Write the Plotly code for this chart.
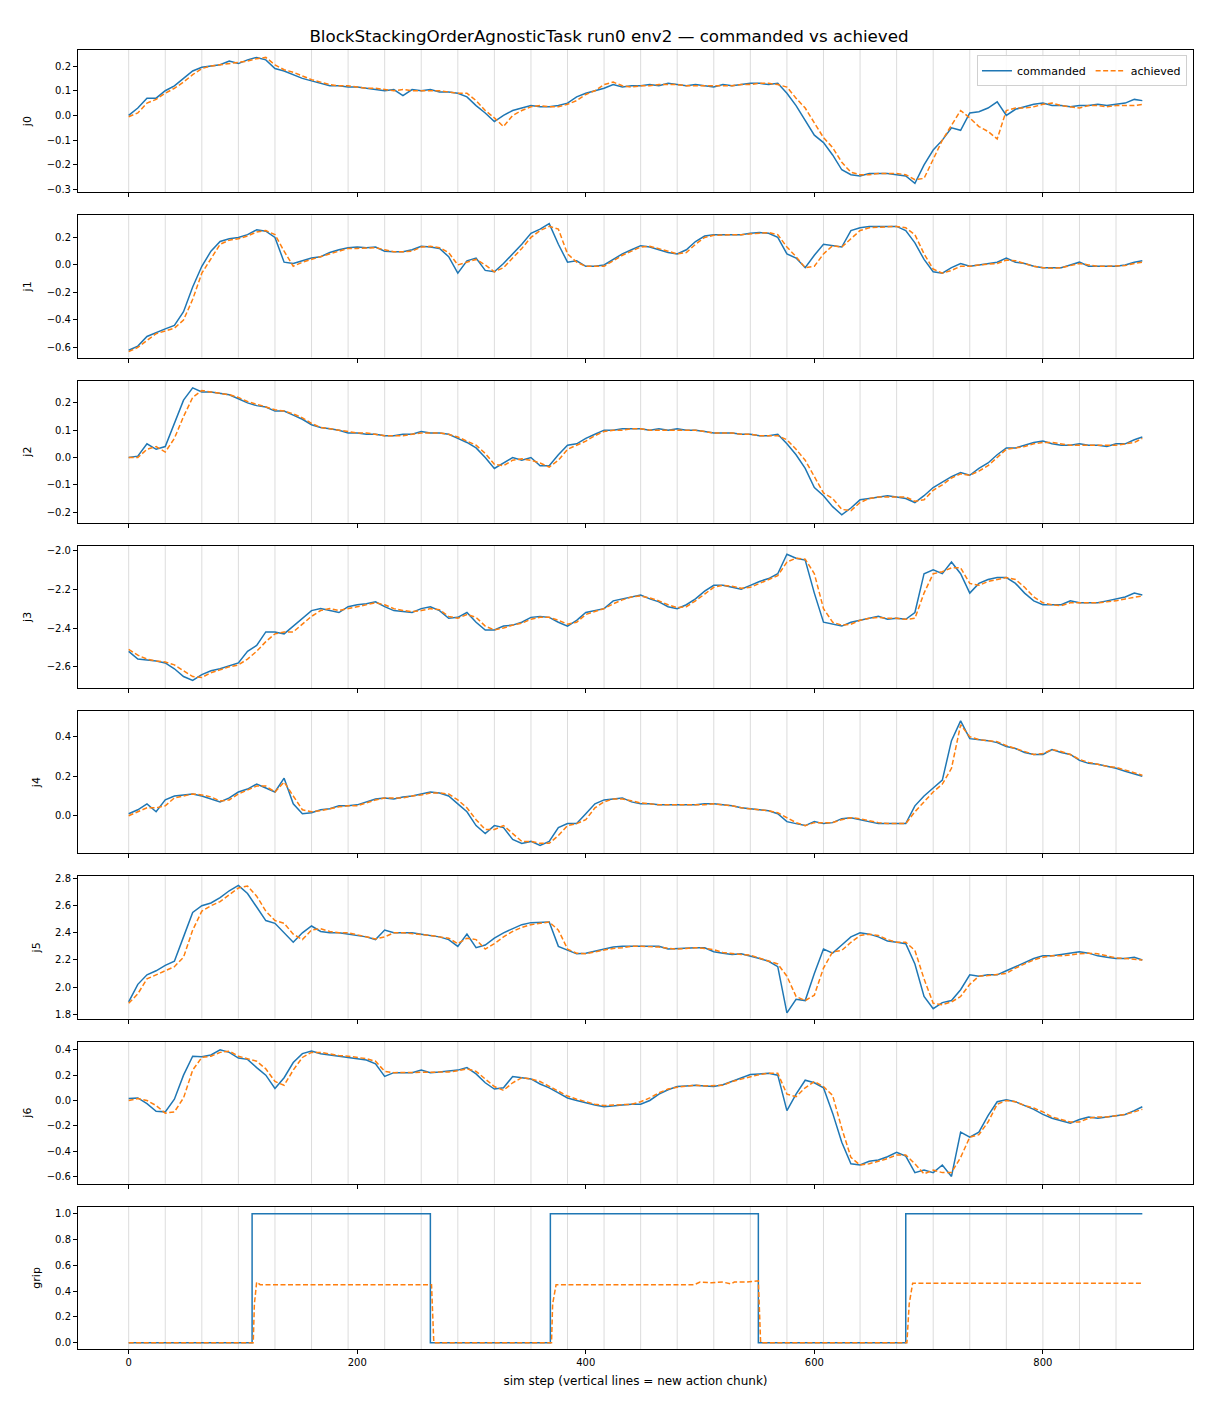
import plotly.graph_objects as go
from plotly.subplots import make_subplots

# sim steps sampled every 8 steps (last sample = final step)
steps = [0, 8, 16, 24, 32, 40, 48, 56,
         64, 72, 80, 88, 96, 104, 112, 120,
         128, 136, 144, 152, 160, 168, 176, 184,
         192, 200, 208, 216, 224, 232, 240, 248,
         256, 264, 272, 280, 288, 296, 304, 312,
         320, 328, 336, 344, 352, 360, 368, 376,
         384, 392, 400, 408, 416, 424, 432, 440,
         448, 456, 464, 472, 480, 488, 496, 504,
         512, 520, 528, 536, 544, 552, 560, 568,
         576, 584, 592, 600, 608, 616, 624, 632,
         640, 648, 656, 664, 672, 680, 688, 696,
         704, 712, 720, 728, 736, 744, 752, 760,
         768, 776, 784, 792, 800, 808, 816, 824,
         832, 840, 848, 856, 864, 872, 880, 887]

j0_cmd = [0.00, 0.03, 0.07, 0.07, 0.10, 0.12, 0.15, 0.18,
          0.195, 0.20, 0.205, 0.22, 0.21, 0.225, 0.235, 0.225,
          0.19, 0.18, 0.165, 0.15, 0.14, 0.13, 0.12, 0.12,
          0.115, 0.115, 0.11, 0.105, 0.10, 0.105, 0.08, 0.105,
          0.10, 0.105, 0.095, 0.095, 0.09, 0.075, 0.04, 0.01,
          -0.025, 0.0, 0.02, 0.03, 0.04, 0.035, 0.035, 0.04,
          0.05, 0.075, 0.09, 0.10, 0.11, 0.125, 0.115, 0.12,
          0.12, 0.125, 0.12, 0.13, 0.125, 0.12, 0.125, 0.12,
          0.115, 0.125, 0.12, 0.125, 0.13, 0.13, 0.125, 0.13,
          0.09, 0.04, -0.02, -0.08, -0.11, -0.16, -0.22, -0.24,
          -0.245, -0.235, -0.235, -0.235, -0.24, -0.245, -0.275, -0.20,
          -0.14, -0.10, -0.05, -0.06, 0.01, 0.015, 0.03, 0.055,
          0.00, 0.025, 0.035, 0.045, 0.05, 0.04, 0.04, 0.035,
          0.04, 0.04, 0.045, 0.04, 0.045, 0.05, 0.065, 0.06]
j0_ach = [-0.005, 0.01, 0.05, 0.065, 0.09, 0.11, 0.135, 0.165,
          0.19, 0.20, 0.205, 0.21, 0.215, 0.22, 0.23, 0.235,
          0.205, 0.185, 0.175, 0.16, 0.145, 0.135, 0.125, 0.12,
          0.12, 0.115, 0.11, 0.11, 0.105, 0.10, 0.105, 0.10,
          0.10, 0.10, 0.10, 0.095, 0.09, 0.09, 0.06, 0.02,
          -0.01, -0.045, 0.0, 0.02, 0.035, 0.04, 0.035, 0.035,
          0.045, 0.06, 0.085, 0.10, 0.125, 0.135, 0.12, 0.115,
          0.12, 0.12, 0.125, 0.125, 0.125, 0.12, 0.12, 0.12,
          0.12, 0.12, 0.12, 0.125, 0.125, 0.13, 0.13, 0.125,
          0.115, 0.07, 0.03, -0.03, -0.09, -0.13, -0.19, -0.23,
          -0.24, -0.24, -0.235, -0.235, -0.235, -0.24, -0.26, -0.255,
          -0.18, -0.10, -0.04, 0.02, -0.01, -0.045, -0.065, -0.095,
          0.02, 0.03, 0.03, 0.035, 0.045, 0.05, 0.04, 0.035,
          0.03, 0.04, 0.04, 0.035, 0.04, 0.04, 0.04, 0.045]

j1_cmd = [-0.62, -0.59, -0.52, -0.49, -0.465, -0.44, -0.34, -0.16,
          -0.01, 0.10, 0.17, 0.19, 0.20, 0.22, 0.255, 0.245,
          0.20, 0.02, 0.01, 0.03, 0.05, 0.06, 0.09, 0.11,
          0.125, 0.13, 0.125, 0.13, 0.10, 0.095, 0.095, 0.11,
          0.135, 0.13, 0.12, 0.06, -0.06, 0.03, 0.05, -0.04,
          -0.05, 0.01, 0.08, 0.15, 0.23, 0.26, 0.30, 0.15,
          0.02, 0.03, -0.01, -0.01, 0.0, 0.04, 0.08, 0.11,
          0.14, 0.13, 0.11, 0.09, 0.08, 0.11, 0.17, 0.21,
          0.22, 0.22, 0.22, 0.22, 0.23, 0.235, 0.23, 0.20,
          0.08, 0.05, -0.02, 0.07, 0.15, 0.14, 0.13, 0.25,
          0.27, 0.28, 0.28, 0.28, 0.28, 0.25, 0.16, 0.04,
          -0.05, -0.06, -0.02, 0.01, -0.01, 0.0, 0.01, 0.02,
          0.05, 0.02, 0.01, -0.01, -0.02, -0.02, -0.02, 0.0,
          0.02, -0.01, -0.01, -0.01, -0.01, 0.0, 0.02, 0.03]
j1_ach = [-0.63, -0.60, -0.55, -0.50, -0.48, -0.46, -0.40, -0.25,
          -0.06, 0.05, 0.15, 0.18, 0.19, 0.21, 0.24, 0.25,
          0.22, 0.10, -0.01, 0.02, 0.04, 0.06, 0.08, 0.10,
          0.12, 0.12, 0.125, 0.125, 0.11, 0.095, 0.095, 0.10,
          0.13, 0.135, 0.125, 0.09, 0.0, 0.02, 0.04, 0.0,
          -0.05, -0.02, 0.05, 0.12, 0.20, 0.25, 0.28, 0.26,
          0.08, 0.02, -0.01, -0.01, -0.01, 0.03, 0.07, 0.10,
          0.13, 0.135, 0.12, 0.10, 0.08, 0.09, 0.15, 0.20,
          0.215, 0.22, 0.22, 0.22, 0.225, 0.23, 0.235, 0.22,
          0.13, 0.06, -0.02, -0.01, 0.08, 0.14, 0.13, 0.19,
          0.25, 0.27, 0.275, 0.28, 0.28, 0.27, 0.22, 0.08,
          -0.03, -0.06, -0.04, -0.01, -0.01, 0.0, 0.005, 0.01,
          0.035, 0.03, 0.01, -0.01, -0.02, -0.025, -0.02, -0.005,
          0.01, 0.0, -0.01, -0.01, -0.01, -0.005, 0.01, 0.02]

j2_cmd = [0.0, 0.005, 0.05, 0.03, 0.04, 0.125, 0.21, 0.255,
          0.24, 0.24, 0.235, 0.23, 0.215, 0.20, 0.19, 0.185,
          0.17, 0.17, 0.155, 0.14, 0.12, 0.11, 0.105, 0.10,
          0.09, 0.09, 0.085, 0.085, 0.08, 0.08, 0.085, 0.085,
          0.095, 0.09, 0.09, 0.085, 0.07, 0.055, 0.035, 0.0,
          -0.04, -0.02, 0.0, -0.01, 0.0, -0.03, -0.03, 0.01,
          0.045, 0.05, 0.07, 0.085, 0.10, 0.10, 0.105, 0.105,
          0.105, 0.10, 0.105, 0.10, 0.105, 0.10, 0.10, 0.095,
          0.09, 0.09, 0.09, 0.085, 0.085, 0.08, 0.08, 0.085,
          0.05, 0.01, -0.04, -0.11, -0.14, -0.18, -0.21, -0.185,
          -0.155, -0.15, -0.145, -0.14, -0.145, -0.15, -0.165, -0.14,
          -0.11, -0.09, -0.07, -0.055, -0.065, -0.04, -0.02, 0.01,
          0.035, 0.035, 0.045, 0.055, 0.06, 0.05, 0.045, 0.045,
          0.05, 0.045, 0.045, 0.04, 0.05, 0.05, 0.065, 0.075]
j2_ach = [0.0, 0.0, 0.03, 0.04, 0.02, 0.07, 0.15, 0.22,
          0.245, 0.24, 0.235, 0.23, 0.22, 0.205, 0.195, 0.185,
          0.175, 0.17, 0.16, 0.145, 0.125, 0.11, 0.105, 0.10,
          0.095, 0.09, 0.09, 0.085, 0.08, 0.08, 0.08, 0.085,
          0.09, 0.09, 0.09, 0.085, 0.075, 0.06, 0.045, 0.015,
          -0.025, -0.03, -0.01, -0.005, -0.01, -0.02, -0.035, -0.01,
          0.03, 0.045, 0.06, 0.08, 0.095, 0.10, 0.10, 0.105,
          0.105, 0.10, 0.10, 0.10, 0.10, 0.10, 0.10, 0.095,
          0.09, 0.09, 0.09, 0.085, 0.085, 0.08, 0.08, 0.08,
          0.065, 0.03, -0.01, -0.07, -0.13, -0.15, -0.19, -0.195,
          -0.165, -0.15, -0.145, -0.145, -0.145, -0.145, -0.16, -0.155,
          -0.12, -0.10, -0.075, -0.06, -0.065, -0.05, -0.03, 0.0,
          0.03, 0.035, 0.04, 0.05, 0.055, 0.055, 0.05, 0.045,
          0.045, 0.045, 0.045, 0.045, 0.045, 0.05, 0.055, 0.07]

j3_cmd = [-2.52, -2.56, -2.565, -2.57, -2.58, -2.61, -2.65, -2.67,
          -2.64, -2.62, -2.61, -2.595, -2.58, -2.52, -2.49, -2.42,
          -2.42, -2.43, -2.39, -2.35, -2.31, -2.30, -2.31, -2.32,
          -2.29, -2.28, -2.275, -2.265, -2.29, -2.31, -2.315, -2.32,
          -2.30, -2.29, -2.31, -2.35, -2.345, -2.32, -2.37, -2.41,
          -2.41, -2.39, -2.385, -2.37, -2.345, -2.34, -2.345, -2.37,
          -2.39, -2.36, -2.32, -2.31, -2.30, -2.26, -2.25, -2.24,
          -2.23, -2.25, -2.265, -2.29, -2.30, -2.28, -2.25, -2.21,
          -2.18, -2.18, -2.19, -2.20, -2.18, -2.16, -2.145, -2.12,
          -2.02, -2.04, -2.05, -2.22, -2.37, -2.38, -2.39, -2.37,
          -2.36, -2.35, -2.34, -2.355, -2.35, -2.355, -2.32, -2.12,
          -2.10, -2.12, -2.06, -2.12, -2.22, -2.17, -2.15, -2.14,
          -2.14, -2.17, -2.22, -2.26, -2.28, -2.28, -2.28, -2.26,
          -2.27, -2.27, -2.27, -2.26, -2.25, -2.24, -2.22, -2.23]
j3_ach = [-2.51, -2.54, -2.56, -2.57, -2.575, -2.59, -2.62, -2.65,
          -2.655, -2.63, -2.615, -2.60, -2.59, -2.56, -2.52, -2.47,
          -2.43, -2.42, -2.42, -2.38, -2.34, -2.31, -2.30, -2.31,
          -2.30, -2.29, -2.28, -2.27, -2.28, -2.30, -2.31, -2.315,
          -2.31, -2.30, -2.305, -2.34, -2.35, -2.33, -2.345, -2.39,
          -2.41, -2.40, -2.385, -2.375, -2.355, -2.345, -2.345, -2.36,
          -2.38, -2.37, -2.33, -2.315, -2.30, -2.275, -2.255, -2.24,
          -2.235, -2.245, -2.26, -2.28, -2.295, -2.29, -2.26, -2.225,
          -2.19, -2.18, -2.185, -2.195, -2.19, -2.17, -2.15, -2.13,
          -2.06, -2.04, -2.045, -2.12, -2.30, -2.37, -2.385, -2.38,
          -2.36, -2.35, -2.345, -2.35, -2.35, -2.355, -2.35, -2.22,
          -2.12, -2.11, -2.09, -2.09, -2.17, -2.18, -2.16, -2.15,
          -2.14, -2.15, -2.19, -2.24, -2.27, -2.28, -2.285, -2.27,
          -2.27, -2.27, -2.27, -2.265, -2.26, -2.25, -2.24, -2.235]

j4_cmd = [0.01, 0.03, 0.06, 0.02, 0.08, 0.10, 0.105, 0.11,
          0.10, 0.085, 0.07, 0.09, 0.12, 0.135, 0.16, 0.14,
          0.12, 0.19, 0.06, 0.01, 0.015, 0.03, 0.035, 0.05,
          0.05, 0.055, 0.07, 0.085, 0.09, 0.085, 0.095, 0.10,
          0.11, 0.12, 0.115, 0.10, 0.06, 0.02, -0.05, -0.09,
          -0.05, -0.06, -0.12, -0.14, -0.13, -0.15, -0.13, -0.06,
          -0.04, -0.04, 0.01, 0.06, 0.08, 0.085, 0.09, 0.07,
          0.06, 0.06, 0.055, 0.055, 0.055, 0.055, 0.055, 0.06,
          0.06, 0.055, 0.05, 0.04, 0.035, 0.03, 0.025, 0.01,
          -0.03, -0.04, -0.05, -0.03, -0.04, -0.035, -0.015, -0.01,
          -0.02, -0.03, -0.04, -0.04, -0.04, -0.04, 0.05, 0.10,
          0.14, 0.18, 0.38, 0.48, 0.39, 0.385, 0.38, 0.37,
          0.35, 0.34, 0.32, 0.31, 0.31, 0.335, 0.32, 0.31,
          0.28, 0.265, 0.26, 0.25, 0.24, 0.225, 0.21, 0.20]
j4_ach = [0.0, 0.02, 0.04, 0.04, 0.05, 0.09, 0.10, 0.11,
          0.105, 0.095, 0.075, 0.08, 0.11, 0.13, 0.15, 0.15,
          0.12, 0.17, 0.10, 0.03, 0.02, 0.025, 0.035, 0.045,
          0.05, 0.05, 0.065, 0.08, 0.09, 0.09, 0.09, 0.10,
          0.105, 0.115, 0.115, 0.11, 0.08, 0.04, -0.02, -0.07,
          -0.07, -0.05, -0.09, -0.13, -0.13, -0.14, -0.14, -0.10,
          -0.05, -0.04, -0.02, 0.04, 0.07, 0.085, 0.085, 0.075,
          0.065, 0.06, 0.055, 0.055, 0.055, 0.055, 0.055, 0.055,
          0.06, 0.055, 0.05, 0.04, 0.035, 0.03, 0.025, 0.015,
          -0.01, -0.035, -0.05, -0.035, -0.035, -0.035, -0.02, -0.01,
          -0.015, -0.025, -0.035, -0.04, -0.04, -0.04, 0.02, 0.07,
          0.12, 0.16, 0.24, 0.46, 0.40, 0.385, 0.38, 0.375,
          0.355, 0.34, 0.325, 0.31, 0.315, 0.335, 0.325, 0.31,
          0.285, 0.27, 0.26, 0.25, 0.245, 0.23, 0.215, 0.205]

j5_cmd = [1.89, 2.02, 2.09, 2.12, 2.16, 2.19, 2.37, 2.55,
          2.60, 2.62, 2.66, 2.71, 2.75, 2.69, 2.59, 2.49,
          2.47, 2.40, 2.33, 2.40, 2.45, 2.41, 2.40, 2.40,
          2.39, 2.38, 2.37, 2.35, 2.42, 2.40, 2.40, 2.40,
          2.39, 2.38, 2.37, 2.35, 2.30, 2.39, 2.29, 2.31,
          2.36, 2.40, 2.43, 2.46, 2.475, 2.48, 2.48, 2.30,
          2.27, 2.245, 2.25, 2.265, 2.28, 2.295, 2.30, 2.30,
          2.30, 2.305, 2.30, 2.28, 2.285, 2.29, 2.29, 2.29,
          2.26, 2.25, 2.24, 2.245, 2.23, 2.21, 2.19, 2.15,
          1.81, 1.91, 1.90, 2.10, 2.28, 2.25, 2.31, 2.37,
          2.40, 2.39, 2.37, 2.34, 2.33, 2.32, 2.17, 1.93,
          1.84, 1.885, 1.90, 1.98, 2.09, 2.08, 2.09, 2.09,
          2.12, 2.15, 2.18, 2.21, 2.23, 2.23, 2.24, 2.25,
          2.26, 2.25, 2.23, 2.22, 2.21, 2.21, 2.22, 2.20]
j5_ach = [1.88, 1.95, 2.06, 2.09, 2.12, 2.15, 2.22, 2.42,
          2.56, 2.60, 2.63, 2.68, 2.73, 2.745, 2.67, 2.56,
          2.49, 2.47, 2.39, 2.35, 2.42, 2.43, 2.41, 2.40,
          2.40, 2.385, 2.37, 2.355, 2.37, 2.40, 2.40, 2.395,
          2.39, 2.38, 2.37, 2.36, 2.32, 2.36, 2.35, 2.28,
          2.32, 2.37, 2.41, 2.44, 2.46, 2.47, 2.48, 2.42,
          2.28, 2.25, 2.245, 2.26, 2.275, 2.285, 2.29, 2.30,
          2.30, 2.30, 2.295, 2.285, 2.28, 2.285, 2.29, 2.285,
          2.275, 2.255, 2.245, 2.24, 2.235, 2.215, 2.195, 2.17,
          2.08, 1.93, 1.90, 1.94, 2.14, 2.26, 2.27, 2.33,
          2.38, 2.39, 2.38, 2.35, 2.33, 2.33, 2.27, 2.06,
          1.88, 1.87, 1.89, 1.93, 2.02, 2.08, 2.085, 2.09,
          2.10, 2.14, 2.17, 2.20, 2.22, 2.23, 2.23, 2.24,
          2.245, 2.25, 2.245, 2.23, 2.215, 2.21, 2.205, 2.20]

j6_cmd = [0.015, 0.02, -0.025, -0.085, -0.09, 0.01, 0.20, 0.35,
          0.345, 0.36, 0.40, 0.38, 0.335, 0.325, 0.26, 0.20,
          0.095, 0.18, 0.30, 0.37, 0.39, 0.37, 0.36, 0.35,
          0.345, 0.335, 0.32, 0.29, 0.19, 0.22, 0.22, 0.22,
          0.24, 0.22, 0.225, 0.23, 0.24, 0.26, 0.21, 0.14,
          0.09, 0.10, 0.19, 0.18, 0.17, 0.13, 0.10, 0.06,
          0.02, 0.0, -0.02, -0.035, -0.05, -0.04, -0.035, -0.03,
          -0.03, 0.0, 0.05, 0.085, 0.11, 0.115, 0.12, 0.115,
          0.11, 0.125, 0.15, 0.18, 0.205, 0.21, 0.215, 0.20,
          -0.08, 0.05, 0.16, 0.14, 0.10, -0.10, -0.33, -0.50,
          -0.51, -0.48, -0.47, -0.445, -0.41, -0.44, -0.57, -0.55,
          -0.57, -0.51, -0.60, -0.25, -0.29, -0.25, -0.12, -0.01,
          0.005, -0.01, -0.04, -0.07, -0.11, -0.14, -0.16, -0.18,
          -0.15, -0.13, -0.14, -0.13, -0.12, -0.11, -0.08, -0.05]
j6_ach = [0.0, 0.015, 0.0, -0.04, -0.10, -0.09, 0.02, 0.24,
          0.34, 0.35, 0.38, 0.39, 0.35, 0.33, 0.31, 0.25,
          0.15, 0.12, 0.24, 0.34, 0.38, 0.38, 0.365, 0.355,
          0.35, 0.34, 0.33, 0.31, 0.23, 0.22, 0.22, 0.22,
          0.225, 0.225, 0.22, 0.225, 0.235, 0.25, 0.23, 0.17,
          0.11, 0.08, 0.14, 0.18, 0.17, 0.15, 0.11, 0.075,
          0.035, 0.01, -0.01, -0.03, -0.04, -0.035, -0.035, -0.03,
          -0.01, 0.02, 0.06, 0.09, 0.105, 0.115, 0.12, 0.115,
          0.115, 0.12, 0.15, 0.17, 0.19, 0.205, 0.215, 0.215,
          0.05, 0.03, 0.10, 0.15, 0.11, 0.04, -0.22, -0.45,
          -0.51, -0.50, -0.48, -0.46, -0.43, -0.43, -0.50, -0.58,
          -0.55, -0.57, -0.57, -0.45, -0.29, -0.27, -0.17, -0.03,
          0.0, -0.01, -0.04, -0.06, -0.09, -0.13, -0.15, -0.17,
          -0.17, -0.14, -0.13, -0.13, -0.12, -0.11, -0.09, -0.07]

# gripper: commanded is a step signal, achieved is the measured opening
grip_cmd_x = [0, 108, 264, 369, 551, 680, 887]
grip_cmd_y = [0.0, 1.0, 0.0, 1.0, 0.0, 1.0, 1.0]
grip_ach_x = [0, 109, 110, 112, 115, 265, 267, 370, 371, 374, 495, 500,
              510, 520, 527, 530, 540, 545, 551, 553, 681, 683, 686, 887]
grip_ach_y = [0.0, 0.0, 0.3, 0.47, 0.45, 0.45, 0.0, 0.0, 0.3, 0.45, 0.45, 0.47,
              0.465, 0.47, 0.455, 0.47, 0.47, 0.475, 0.48, 0.0, 0.0, 0.3, 0.46, 0.46]

joint_names = ["j0", "j1", "j2", "j3", "j4", "j5", "j6"]
joint_cmd = [j0_cmd, j1_cmd, j2_cmd, j3_cmd, j4_cmd, j5_cmd, j6_cmd]
joint_ach = [j0_ach, j1_ach, j2_ach, j3_ach, j4_ach, j5_ach, j6_ach]

CHUNK_LEN = 32
BLUE = "#1f77b4"
ORANGE = "#ff7f0e"
FONT = "DejaVu Sans"
W, H = 1202, 1400   # page adds an 8px body margin

y_ranges = [[-0.311, 0.265], [-0.673, 0.361], [-0.239, 0.282], [-2.709, -1.976],
            [-0.19, 0.53], [1.768, 2.817], [-0.658, 0.466], [-0.049, 1.054]]
y_dticks = [0.1, 0.2, 0.1, 0.2, 0.2, 0.2, 0.2, 0.2]

fig = make_subplots(rows=8, cols=1, shared_xaxes=True,
                    vertical_spacing=23 / 1299)

for i, name in enumerate(joint_names):
    fig.add_trace(go.Scatter(x=steps, y=joint_cmd[i], mode="lines",
                             name="commanded", legendgroup="cmd",
                             showlegend=(i == 0),
                             line=dict(color=BLUE, width=1.5)),
                  row=i + 1, col=1)
    fig.add_trace(go.Scatter(x=steps, y=joint_ach[i], mode="lines",
                             name="achieved", legendgroup="ach",
                             showlegend=(i == 0),
                             line=dict(color=ORANGE, width=1.5, dash="5px,2.5px")),
                  row=i + 1, col=1)

fig.add_trace(go.Scatter(x=grip_cmd_x, y=grip_cmd_y, mode="lines",
                         name="commanded", legendgroup="cmd", showlegend=False,
                         line=dict(color=BLUE, width=1.5, shape="hv")),
              row=8, col=1)
fig.add_trace(go.Scatter(x=grip_ach_x, y=grip_ach_y, mode="lines",
                         name="achieved", legendgroup="ach", showlegend=False,
                         line=dict(color=ORANGE, width=1.5, dash="5px,2.5px")),
              row=8, col=1)

# vertical lines at each new action chunk
shapes = []
for r in range(1, 9):
    xr = "x" if r == 1 else f"x{r}"
    yr = "y domain" if r == 1 else f"y{r} domain"
    for s in range(0, steps[-1] + 1, CHUNK_LEN):
        shapes.append(dict(type="line", xref=xr, yref=yr, x0=s, x1=s, y0=0, y1=1,
                           line=dict(color="rgba(128,128,128,0.28)", width=1),
                           layer="below"))

axis_common = dict(showline=True, mirror=True, linecolor="black", linewidth=1,
                   ticks="outside", ticklen=4, tickwidth=1, tickcolor="black",
                   showgrid=False, zeroline=False,
                   tickfont=dict(family=FONT, size=10, color="black"))

for r in range(1, 9):
    fig.update_xaxes(range=[-44.35, 931.35], tickvals=[0, 200, 400, 600, 800],
                     row=r, col=1, **axis_common)
    label = joint_names[r - 1] if r <= 7 else "grip"
    fig.update_yaxes(range=y_ranges[r - 1], dtick=y_dticks[r - 1], tickformat=".1f",
                     title=dict(text=label, font=dict(family=FONT, size=11, color="black"),
                                standoff=12),
                     row=r, col=1, **axis_common)

fig.update_xaxes(title=dict(text="sim step (vertical lines = new action chunk)",
                            font=dict(family=FONT, size=12, color="black"),
                            standoff=9),
                 row=8, col=1)

fig.update_layout(
    width=W, height=H,
    margin=dict(l=70, r=17, t=42, b=59),
    paper_bgcolor="white", plot_bgcolor="white",
    font=dict(family=FONT, color="black"),
    title=dict(text="BlockStackingOrderAgnosticTask run0 env2 \u2014 commanded vs achieved",
               x=(605 - 8 - 70) / (W - 87) if False else 0.5, xanchor="center",
               y=1 - 28 / H, yanchor="middle",
               font=dict(family=FONT, size=16.7, color="black")),
    legend=dict(orientation="h", x=0.9946, xanchor="right", y=0.996, yanchor="top",
                bgcolor="rgba(255,255,255,0.85)", bordercolor="#d0d0d0", borderwidth=1,
                font=dict(family=FONT, size=11, color="black"),
                itemwidth=30, tracegroupgap=0),
    shapes=shapes,
)

fig.write_html("out.html")
